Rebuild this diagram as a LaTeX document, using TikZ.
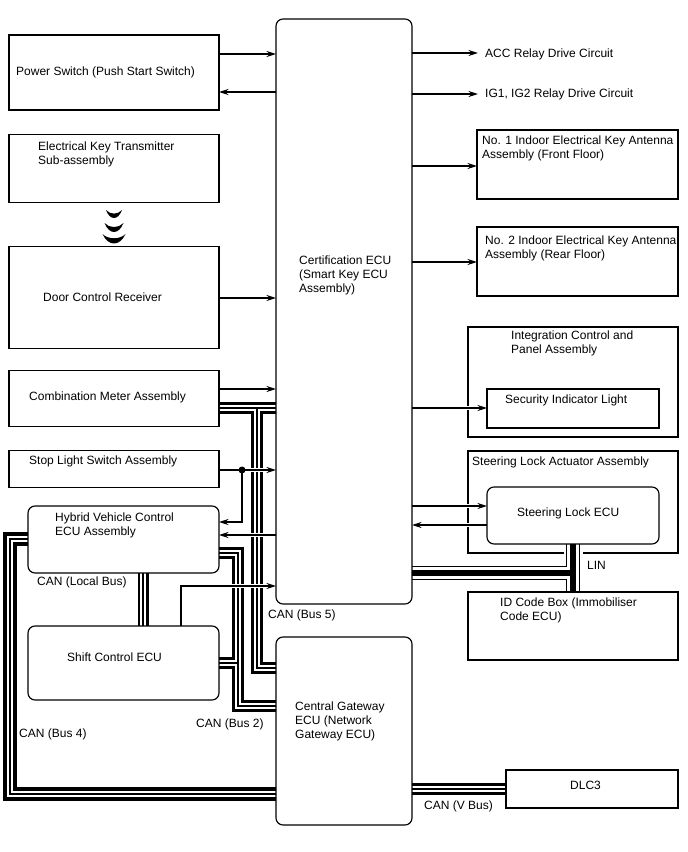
\documentclass[tikz,border=0pt]{standalone}
\usepackage{fontspec}
\setmainfont{Liberation Sans}
\usetikzlibrary{arrows.meta, backgrounds}
\tikzset{>={Stealth[length=9.5pt,width=6pt]}}
\tikzset{
    unit/.style={draw=black, line width=1.15pt, inner sep=0pt, outer sep=0pt},
    ecu/.style={unit, rounded corners=7pt},
    lbl/.style={anchor=west, inner sep=0pt, align=left, yshift=-1.2pt, font=\fontsize{12}{14}\selectfont},
    wire/.style={draw=black, line width=1.15pt, ->},
    wirecross/.style={wire, preaction={draw=white, line width=4pt, -, shorten >=3pt, shorten <=3pt}},
    canbus/.style={draw=black, line width=12pt, postaction={draw=white, line width=6.4pt}, postaction={draw=black, line width=1.1pt}},
    linbus/.style={draw=black, line width=14pt, postaction={draw=white, line width=11.8pt}, postaction={draw=black, line width=5.5pt}},
}

\begin{document}
\begin{tikzpicture}[x=1pt, y=-1pt]
    \useasboundingbox (0,0) rectangle (688,852);
    \node[unit, minimum width=210, minimum height=75] (powerbox) at (114,72.5) {};
    \node[unit, minimum width=210, minimum height=68] (keybox) at (114,168.7) {};
    \node[unit, minimum width=210, minimum height=102] (doorbox) at (114,297.7) {};
    \node[unit, minimum width=210, minimum height=56] (meterbox) at (114,398.7) {};
    \node[unit, minimum width=210, minimum height=37] (stopbox) at (114,469.2) {};
    \node[ecu, minimum width=191, minimum height=67] (hybridecu) at (123.5,539.5) {};
    \node[ecu, minimum width=191, minimum height=74] (shiftecu) at (123.5,663) {};
    \node[ecu, minimum width=136, minimum height=585] (certecu) at (344,311.5) {};
    \node[ecu, minimum width=136, minimum height=188] (gatewayecu) at (344,731) {};
    \node[unit, minimum width=201, minimum height=69] (antone) at (577.5,164.5) {};
    \node[unit, minimum width=201, minimum height=69] (anttwo) at (577.5,261.5) {};
    \node[unit, minimum width=210, minimum height=110] (panelbox) at (573,382) {};
    \node[unit, minimum width=172, minimum height=39] (lightbox) at (573,408.5) {};
    \node[ecu, minimum width=172, minimum height=57] (lockecu) at (573,515.5) {};
    \node[unit, minimum width=210, minimum height=68] (idbox) at (573,626) {};
    \node[unit, minimum width=172, minimum height=38] (dlcbox) at (592,789) {};
    \coordinate (accend) at (478,53);
    \coordinate (igend) at (478,94);
    \coordinate (stopdot) at (242,470);
    \coordinate (shiftbend) at (181,586);

    \begin{scope}[on background layer]
        \node[unit, minimum width=210, minimum height=102] (lockbox) at (573,502) {};
        \path[canbus] (meterbox.east |- 0,408) -- (certecu.west |- 0,408)
            (257,408) -- (257,668) -- (gatewayecu.west |- 0,668);
        \path[canbus] (hybridecu.east |- 0,553) -- (238,553) -- (238,706) -- (gatewayecu.west |- 0,706)
            (shiftecu.east |- 0,663) -- (238,663);
        \path[canbus, line width=14pt] (hybridecu.west |- 0,539) -- (10,539) -- (10,794) -- (gatewayecu.west |- 0,794);
        \path[canbus, line width=11pt] (hybridecu.south -| 143,0) -- (shiftecu.north -| 143,0);
        \path[canbus] (gatewayecu.east |- 0,789) -- (dlcbox.west |- 0,789);
        \draw[white, line width=19pt] (573,549) -- (573,558);
        \path[linbus] (certecu.east |- 0,573) -- (573,573)
            (lockecu.south -| 573,0) -- (idbox.north -| 573,0);
    \end{scope}

    \draw[wire] (powerbox.east |- 0,54) -- (certecu.west |- 0,54);
    \draw[wire] (certecu.west |- 0,92) -- (powerbox.east |- 0,92);
    \draw[wire] (doorbox.east |- 0,298) -- (certecu.west |- 0,298);
    \draw[wire] (meterbox.east |- 0,389) -- (certecu.west |- 0,389);
    \draw[wirecross] (stopbox.east |- stopdot) -- (certecu.west |- stopdot);
    \fill (stopdot) circle (3.5);
    \draw[wire] (stopdot) |- (hybridecu.east |- 0,522);
    \draw[wirecross] (certecu.west |- 0,535) -- (hybridecu.east |- 0,535);
    \draw[wirecross] (shiftecu.north -| shiftbend) -- (shiftbend) -- (certecu.west |- shiftbend);
    \draw[wire] (certecu.east |- accend) -- (accend);
    \draw[wire] (certecu.east |- igend) -- (igend);
    \draw[wire] (certecu.east |- 0,166) -- (antone.west |- 0,166);
    \draw[wire] (certecu.east |- 0,262) -- (anttwo.west |- 0,262);
    \draw[wirecross] (certecu.east |- 0,408) -- (lightbox.west |- 0,408);
    \draw[wirecross] (certecu.east |- 0,506) -- (lockecu.west |- 0,506);
    \draw[wirecross] (lockecu.west |- 0,525) -- (certecu.east |- 0,525);

    \foreach \y/\w/\d in {210/8/8, 223/9.5/9, 234/11.5/9.5}
        \fill (114-\w,\y) .. controls (114-\w*0.5,\y+\d*1.33) and (114+\w*0.5,\y+\d*1.33) .. (114+\w,\y)
            .. controls (114+\w*0.5,\y+\d*0.6) and (114-\w*0.5,\y+\d*0.6) .. cycle;

    \node[lbl] (powertext) at (16,71) {Power Switch (Push Start Switch)};
    \node[lbl] (keytext) at (38,153) {Electrical Key Transmitter\\Sub-assembly};
    \node[lbl] (doortext) at (43,296) {Door Control Receiver};
    \node[lbl] (metertext) at (29,396) {Combination Meter Assembly};
    \node[lbl] (stoptext) at (29,460) {Stop Light Switch Assembly};
    \node[lbl] (hybridtext) at (55,524) {Hybrid Vehicle Control\\ECU Assembly};
    \node[lbl] (shifttext) at (67,656) {Shift Control ECU};
    \node[lbl] (certtext) at (299,274) {Certification ECU\\(Smart Key ECU\\Assembly)};
    \node[lbl] (gatewaytext) at (295,720) {Central Gateway\\ECU (Network\\Gateway ECU)};
    \node[lbl] (acctext) at (485,53) {ACC Relay Drive Circuit};
    \node[lbl] (igtext) at (485,93) {IG1, IG2 Relay Drive Circuit};
    \node[lbl] (antonetext) at (482,147) {No. 1 Indoor Electrical Key Antenna\\Assembly (Front Floor)};
    \node[lbl] (anttwotext) at (485,247) {No. 2 Indoor Electrical Key Antenna\\Assembly (Rear Floor)};
    \node[lbl] (paneltext) at (511,342) {Integration Control and\\Panel Assembly};
    \node[lbl] (lighttext) at (505,399) {Security Indicator Light};
    \node[lbl] (locktext) at (472,461) {Steering Lock Actuator Assembly};
    \node[lbl] (lockecutext) at (517,512) {Steering Lock ECU};
    \node[lbl] (idtext) at (500,609) {ID Code Box (Immobiliser\\Code ECU)};
    \node[lbl] (dlctext) at (570,784) {DLC3};
    \node[lbl] (localtext) at (37,581) {CAN (Local Bus)};
    \node[lbl] (busfivetext) at (268,614) {CAN (Bus 5)};
    \node[lbl] (bustwotext) at (196,723) {CAN (Bus 2)};
    \node[lbl] (busfourtext) at (19,733) {CAN (Bus 4)};
    \node[lbl] (vbustext) at (424,805) {CAN (V Bus)};
    \node[lbl] (lintext) at (587,564) {LIN};
\end{tikzpicture}
\end{document}
